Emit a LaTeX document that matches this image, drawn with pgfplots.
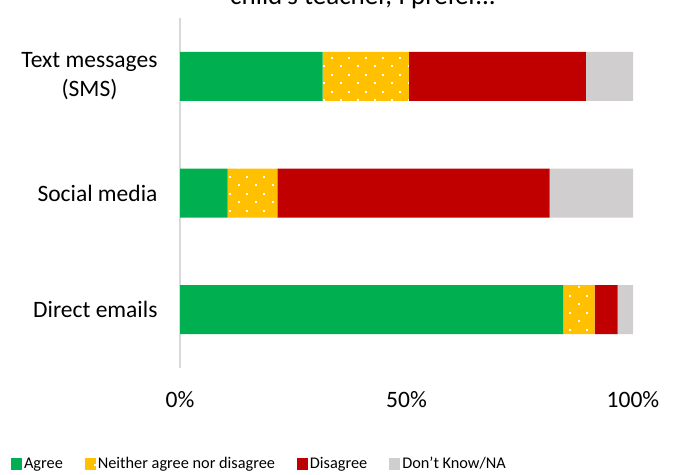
\documentclass[border=0pt]{standalone}
\usepackage{pgfplots}
\pgfplotsset{compat=1.18}
\usetikzlibrary{patterns.meta}
\usepackage{fontspec}
\setmainfont{Carlito}
\definecolor{cgreen}{HTML}{00B050}
\definecolor{cyellow}{HTML}{FFC000}
\definecolor{cred}{HTML}{C00000}
\definecolor{cgray}{HTML}{D0CECE}
\tikzdeclarepattern{
  name=wdots,
  type=uncolored,
  bottom left={(0pt,0pt)},
  top right={(17pt,17pt)},
  tile size={(17pt,17pt)},
  code={
    \fill (0pt,0pt) rectangle (2pt,2pt);
    \fill (8.5pt,8.5pt) rectangle (10.5pt,10.5pt);
  }
}
\begin{document}
\begin{tikzpicture}
\useasboundingbox (0,0) rectangle (676pt,474pt);
\node[anchor=base, font=\fontsize{27}{32}\selectfont] at (363pt,469pt) {child's teacher, I prefer...};
\begin{axis}[
  at={(180pt,106pt)}, anchor=south west,
  scale only axis, width=453pt, height=350pt,
  xbar stacked, bar width=49pt,
  xmin=0, xmax=100, ymin=-0.5, ymax=2.5,
  xtick={0,50,100}, xticklabels={0\%,50\%,100\%},
  ytick={0,1,2},
  yticklabels={Direct emails, Social media, {Text messages\\(SMS)}},
  /pgf/number format/assume math mode=true,
  axis lines*=left,
  x axis line style={draw=none},
  y axis line style={draw=black!15, line width=1.2pt},
  tick style={draw=none},
  ticklabel style={font=\fontsize{23.5}{29}\selectfont},
  yticklabel style={align=center, xshift=-19pt},
  xticklabel style={yshift=-20pt},
  legend columns=4,
  legend style={at={(axis description cs:-0.38,-0.274)}, anchor=west, draw=none,
    font=\fontsize{16.3}{19}\selectfont, column sep=0pt,
    /tikz/every even column/.append style={column sep=20pt}},
  legend image code/.code={\fill[#1] (0pt,-6pt) rectangle (11pt,6pt);},
]
\addplot[fill=cgreen, draw=none] coordinates {(84.6,0) (10.5,1) (31.5,2)};
\addplot[fill=cyellow, draw=none, postaction={pattern=wdots, pattern color=white}] coordinates {(6.9,0) (11.0,1) (19.0,2)};
\addplot[fill=cred, draw=none] coordinates {(5.1,0) (60.1,1) (39.1,2)};
\addplot[fill=cgray, draw=none] coordinates {(3.4,0) (18.4,1) (10.4,2)};
\legend{Agree, Neither agree nor disagree, Disagree, Don't Know/NA}
\end{axis}
\end{tikzpicture}
\end{document}
